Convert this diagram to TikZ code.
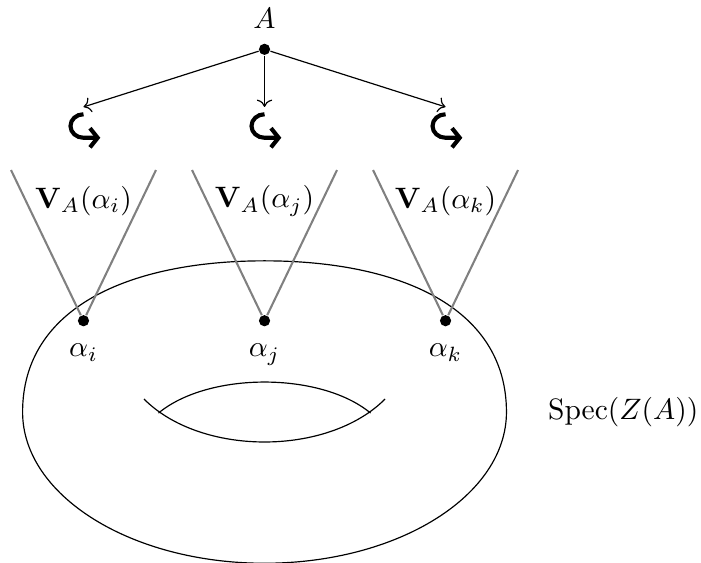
\documentclass[tikz,border=0pt]{standalone}
\usetikzlibrary{positioning,arrows.meta}
\begin{document}
\begin{tikzpicture}[
                spot/.style={
                    circle,
                    fill=black,
                    inner sep=0pt,
                    minimum size=3.8pt
                },
                hookbox/.style={
                    rectangle,
                    inner sep=0pt,
                    minimum width=0.4cm,
                    minimum height=0.44cm
                },
                hook/.style={
                    line width=1.4pt,
                    -{Straight Barb[length=2.6pt,width=6.5pt]}
                },
                coneline/.style={
                    draw=gray,
                    line width=0.7pt
                },
                arrow/.style={
                    ->
                }
            ]
                \useasboundingbox (-3.149,-1.786) rectangle (5.196,4.905);

                % top
                \node[spot] (A) at (0,4.318) {};
                \node[above=0.05cm of A] (Alabel) {$A$};

                \node[hookbox] (hooki) at (-2.155,3.405) {};
                \node[hookbox] (hookj) at (0,3.405)      {};
                \node[hookbox] (hookk) at (2.155,3.405)  {};

                \draw[hook] ([yshift=0.14cm]hooki.center) arc (90:270:0.155 and 0.14) -- ++(0.2,0);
                \draw[hook] ([yshift=0.14cm]hookj.center) arc (90:270:0.155 and 0.14) -- ++(0.2,0);
                \draw[hook] ([yshift=0.14cm]hookk.center) arc (90:270:0.155 and 0.14) -- ++(0.2,0);

                \draw[arrow] (A) -- (hooki.north);
                \draw[arrow] (A) -- (hookj.north);
                \draw[arrow] (A) -- (hookk.north);

                % torus
                \draw (-2.88,0) .. controls (-2.88,1.25) and (-1.6,1.8) .. (0,1.8)
                      .. controls (1.6,1.8) and (2.88,1.25) .. (2.88,0)
                      arc (0:-180:2.88 and 1.8);
                \draw (-1.435,0.155) .. controls (-0.756,-0.527) and (0.756,-0.527) .. (1.435,0.155);
                \draw (-1.262,-0.012) .. controls (-0.667,0.48) and (0.667,0.48) .. (1.262,-0.012);
                \node (spec) at (4.27,0) {$\mathrm{Spec}(Z(A))$};

                % points and cones
                \node[spot] (ai) at (-2.155,1.087) {};
                \node[spot] (aj) at (0,1.087)      {};
                \node[spot] (ak) at (2.155,1.087)  {};

                \node[below=0.08cm of ai] (ailabel) {$\alpha_i$};
                \node[below=0.08cm of aj] (ajlabel) {$\alpha_j$};
                \node[below=0.08cm of ak] (aklabel) {$\alpha_k$};

                \coordinate (il) at (-3.018,2.881);
                \coordinate (ir) at (-1.292,2.881);
                \coordinate (jl) at (-0.863,2.881);
                \coordinate (jr) at (0.863,2.881);
                \coordinate (kl) at (1.292,2.881);
                \coordinate (kr) at (3.018,2.881);

                \draw[coneline] (il) -- (ai) -- (ir);
                \draw[coneline] (jl) -- (aj) -- (jr);
                \draw[coneline] (kl) -- (ak) -- (kr);

                \node (vi) at (-2.155,2.512) {$\mathbf{V}_A(\alpha_i)$};
                \node (vj) at (0,2.512)      {$\mathbf{V}_A(\alpha_j)$};
                \node (vk) at (2.155,2.512)  {$\mathbf{V}_A(\alpha_k)$};
        \end{tikzpicture}
\end{document}
